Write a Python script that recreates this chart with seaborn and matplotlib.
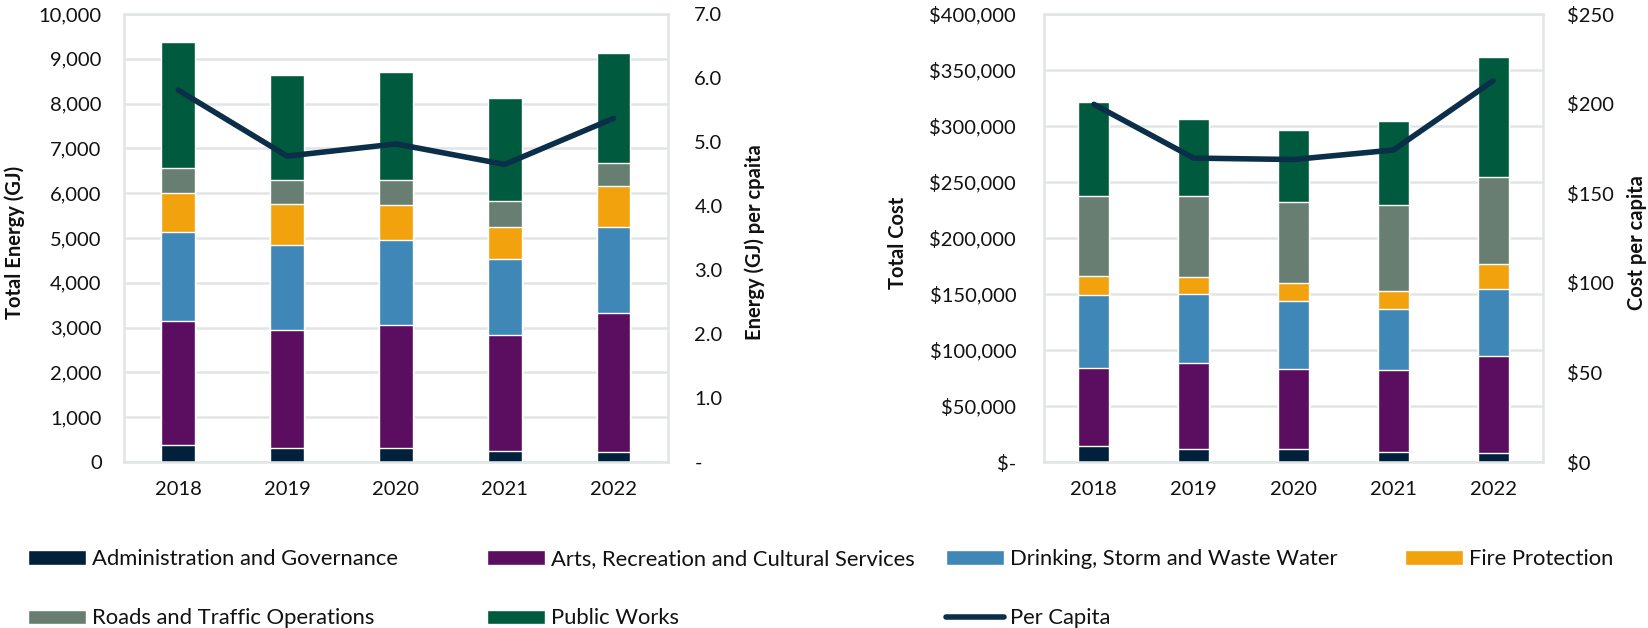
import numpy as np
import matplotlib
matplotlib.use("Agg")
import matplotlib.pyplot as plt
import seaborn as sns
from matplotlib.ticker import FuncFormatter, MultipleLocator

# ---- data -------------------------------------------------------------
years = ["2018", "2019", "2020", "2021", "2022"]
services = [
    "Administration and Governance",
    "Arts, Recreation and Cultural Services",
    "Drinking, Storm and Waste Water",
    "Fire Protection",
    "Roads and Traffic Operations",
    "Public Works",
]

# energy use by service (GJ)
admin_gj = [370, 310, 310, 245, 225]
arts_gj = [2770, 2635, 2740, 2585, 3105]
water_gj = [1990, 1905, 1910, 1700, 1925]
fire_gj = [885, 900, 770, 720, 895]
roads_gj = [555, 555, 575, 565, 535]
works_gj = [2810, 2325, 2410, 2310, 2440]
energy_per_capita = [5.81, 4.78, 4.97, 4.65, 5.37]

# energy cost by service ($)
admin_cost = [14300, 11600, 11600, 9300, 8400]
arts_cost = [69900, 76500, 71700, 72800, 85900]
water_cost = [64500, 61500, 60900, 54600, 60600]
fire_cost = [17300, 15800, 15500, 15800, 21500]
roads_cost = [71900, 72500, 72800, 76800, 78500]
works_cost = [83900, 68400, 64200, 75500, 106300]
cost_per_capita = [199.6, 169.6, 168.8, 174.1, 212.7]

# ---- style ------------------------------------------------------------
colors = ["#00203b", "#5b0d60", "#3e87b6", "#f2a20d", "#697e72", "#005b3e"]
line_color = "#0b2f48"
grid_color = "#e2e5e5"
text_color = "#111111"
tick_size = 14.5
label_font = dict(fontsize=14.5, fontweight="bold", color=text_color)

sns.set_style("white")
plt.rcParams["font.family"] = ["Lato", "DejaVu Sans"]

fig = plt.figure(figsize=(16.48, 6.28), dpi=100)
ax_e = fig.add_axes([0.0752, 0.2643, 0.3301, 0.7134])
ax_c = fig.add_axes([0.6335, 0.2643, 0.3028, 0.7134])


def draw_panel(ax, layers, per_capita, ymax, ystep, ymax2, ystep2,
               fmt_left, fmt_right, left_label, right_label,
               left_pad, right_pad, left_lx, right_lx):
    stacks = np.cumsum(np.array(layers, dtype=float), axis=0)
    # tallest stack first, each lower segment painted over it
    for i in reversed(range(len(layers))):
        sns.barplot(x=years, y=stacks[i], color=colors[i], saturation=1,
                    width=0.31, ax=ax, label=services[i])
    if ax.get_legend() is not None:
        ax.get_legend().remove()

    ax2 = ax.twinx()
    sns.lineplot(x=np.arange(len(years)), y=per_capita, ax=ax2,
                 color=line_color, linewidth=4, label="Per Capita",
                 legend=False)
    for ln in ax2.lines:
        ln.set_solid_joinstyle("round")
        ln.set_solid_capstyle("round")

    ax.set_xlim(-0.5, len(years) - 0.5)
    ax.set_ylim(0, ymax)
    ax2.set_ylim(0, ymax2)
    ax.yaxis.set_major_locator(MultipleLocator(ystep))
    ax2.yaxis.set_major_locator(MultipleLocator(ystep2))
    ax.yaxis.set_major_formatter(FuncFormatter(fmt_left))
    ax2.yaxis.set_major_formatter(FuncFormatter(fmt_right))

    ax.set_axisbelow(True)
    ax.yaxis.grid(True, color=grid_color, linewidth=1.8)
    ax.xaxis.grid(False)
    for sp in ax.spines.values():
        sp.set_visible(True)
        sp.set_color(grid_color)
        sp.set_linewidth(1.8)
    for sp in ax2.spines.values():
        sp.set_visible(False)

    ax.tick_params(axis="y", length=0, pad=left_pad, labelsize=tick_size,
                   labelcolor=text_color)
    ax.tick_params(axis="x", length=0, pad=14, labelsize=tick_size,
                   labelcolor=text_color)
    ax2.tick_params(axis="y", length=0, pad=right_pad, labelsize=tick_size,
                    labelcolor=text_color)

    ax.set_xlabel("")
    ax.set_ylabel(left_label, **label_font)
    ax2.set_ylabel(right_label, **label_font)
    for a, lx in ((ax, left_lx), (ax2, right_lx)):
        a.yaxis.label.set_va("center")
        a.yaxis.label.set_ha("center")
        a.yaxis.set_label_coords(lx, 0.49)
    return ax2


ax_e2 = draw_panel(
    ax_e, [admin_gj, arts_gj, water_gj, fire_gj, roads_gj, works_gj],
    energy_per_capita, 10000, 1000, 7.0, 1.0,
    lambda v, p: f"{v:,.0f}",
    lambda v, p: "-" if abs(v) < 1e-9 else f"{v:.1f}",
    "Total Energy (GJ)", "Energy (GJ) per cpaita",
    16, 19, -0.20, 1.16)

ax_c2 = draw_panel(
    ax_c, [admin_cost, arts_cost, water_cost, fire_cost, roads_cost, works_cost],
    cost_per_capita, 400000, 50000, 250, 50,
    lambda v, p: "$-" if abs(v) < 1e-9 else f"${v:,.0f}",
    lambda v, p: f"${v:,.0f}",
    "Total Cost", "Cost per capita",
    20, 17, -0.293, 1.188)

# ---- legend: four equal-width columns ----------------------------------
handles, labels = ax_e.get_legend_handles_labels()
lookup = dict(zip(labels, handles))
h2, l2 = ax_e2.get_legend_handles_labels()
lookup.update(dict(zip(l2, h2)))

columns = [
    ["Administration and Governance", "Roads and Traffic Operations"],
    ["Arts, Recreation and Cultural Services", "Public Works"],
    ["Drinking, Storm and Waste Water", "Per Capita"],
    ["Fire Protection"],
]
col_x = [28, 487, 946, 1405]
for names, x in zip(columns, col_x):
    fig.legend([lookup[n] for n in names], names, loc="upper left",
               bbox_to_anchor=(x / 1648, 1 - 549 / 628), frameon=False,
               fontsize=15.8, borderpad=0, borderaxespad=0,
               handlelength=2.65, handleheight=0.64, handletextpad=0.25,
               labelspacing=1.8, labelcolor=text_color)

fig.savefig("out.png", dpi=100)
